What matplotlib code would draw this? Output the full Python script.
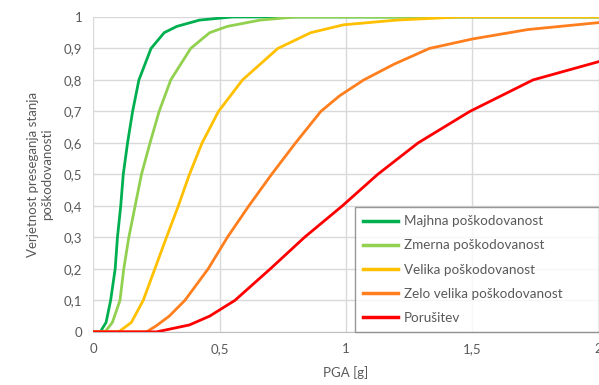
import numpy as np
import matplotlib.pyplot as plt

plt.rcParams['font.family'] = ['Lato', 'DejaVu Sans']

# podatki odčitani s slike (PGA [g] -> verjetnost)
majhna_x = [0, 0.027, 0.05, 0.068, 0.086, 0.095, 0.108, 0.118, 0.135, 0.155, 0.18, 0.228, 0.28, 0.33, 0.42, 0.55, 2.0]
majhna_y = [0, 0, 0.03, 0.1, 0.2, 0.3, 0.4, 0.5, 0.6, 0.7, 0.8, 0.9, 0.95, 0.97, 0.99, 1, 1]

zmerna_x = [0, 0.046, 0.075, 0.105, 0.12, 0.14, 0.165, 0.19, 0.224, 0.26, 0.306, 0.385, 0.46, 0.53, 0.66, 0.8, 2.0]
zmerna_y = [0, 0, 0.03, 0.1, 0.2, 0.3, 0.4, 0.5, 0.6, 0.7, 0.8, 0.9, 0.95, 0.97, 0.99, 1, 1]

velika_x = [0, 0.1, 0.15, 0.197, 0.243, 0.289, 0.336, 0.38, 0.43, 0.495, 0.59, 0.73, 0.86, 0.99, 1.2, 1.45, 2.0]
velika_y = [0, 0, 0.03, 0.1, 0.2, 0.3, 0.4, 0.5, 0.6, 0.7, 0.8, 0.9, 0.95, 0.975, 0.99, 1, 1]

zelo_x = [0, 0.21, 0.25, 0.30, 0.362, 0.454, 0.53, 0.615, 0.705, 0.8, 0.9, 0.975, 1.07, 1.19, 1.33, 1.5, 1.72, 2.0]
zelo_y = [0, 0, 0.02, 0.05, 0.1, 0.2, 0.3, 0.4, 0.5, 0.6, 0.7, 0.75, 0.8, 0.85, 0.9, 0.93, 0.96, 0.982]

porusitev_x = [0, 0.25, 0.38, 0.46, 0.56, 0.70, 0.835, 0.985, 1.125, 1.285, 1.49, 1.74, 2.0]
porusitev_y = [0, 0, 0.022, 0.05, 0.1, 0.2, 0.3, 0.4, 0.5, 0.6, 0.7, 0.8, 0.858]

labels = ["Majhna poškodovanost", "Zmerna poškodovanost", "Velika poškodovanost",
          "Zelo velika poškodovanost", "Porušitev"]
colors = ["#00B050", "#92D050", "#FFC000", "#FF7F1E", "#FF0000"]

x_ticks = [0, 0.5, 1, 1.5, 2]
y_ticks = [0, 0.1, 0.2, 0.3, 0.4, 0.5, 0.6, 0.7, 0.8, 0.9, 1]


def fmt(v):
    # decimalna vejica
    return f"{v:g}".replace(".", ",")


fig = plt.figure(figsize=(5.99, 3.85), dpi=100)
ax = fig.add_axes([0.156, 0.138, 0.8435, 0.818])

series = [(majhna_x, majhna_y), (zmerna_x, zmerna_y), (velika_x, velika_y),
          (zelo_x, zelo_y), (porusitev_x, porusitev_y)]
for (xs, ys), lab, c in zip(series, labels, colors):
    ax.plot(xs, ys, color=c, lw=2, label=lab, solid_joinstyle="round")

ax.set_xlim(0, 2)
ax.set_ylim(0, 1)
ax.set_xticks(x_ticks)
ax.set_xticklabels([fmt(v) for v in x_ticks])
ax.set_yticks(y_ticks)
ax.set_yticklabels([fmt(v) for v in y_ticks])
ax.grid(True, color="#D9D9D9", lw=1)
ax.set_axisbelow(True)
for s in ["top", "right", "left"]:
    ax.spines[s].set_visible(False)
ax.spines["bottom"].set_color("#BFBFBF")
ax.tick_params(length=0, colors="#595959", labelsize=9.5, pad=8)

ax.set_xlabel("PGA [g]", color="#595959", fontsize=9.5, labelpad=8)
ax.set_ylabel("Verjetnost preseganja stanja\npoškodovanosti", color="#595959",
              fontsize=9.5, labelpad=8)

leg = ax.legend(loc="lower left", bbox_to_anchor=(0.518, 0.0, 0.482, 0.425),
                mode="expand", fontsize=9.7, frameon=True, fancybox=False,
                handlelength=2.6, labelspacing=0.9, borderpad=0.6,
                handletextpad=0.4, borderaxespad=0)
leg.get_frame().set_edgecolor("#7F7F7F")
leg.get_frame().set_linewidth(1)
for t in leg.get_texts():
    t.set_color("#595959")
for h in leg.get_lines():
    h.set_linewidth(2.5)

fig.savefig("out.png", dpi=100)
